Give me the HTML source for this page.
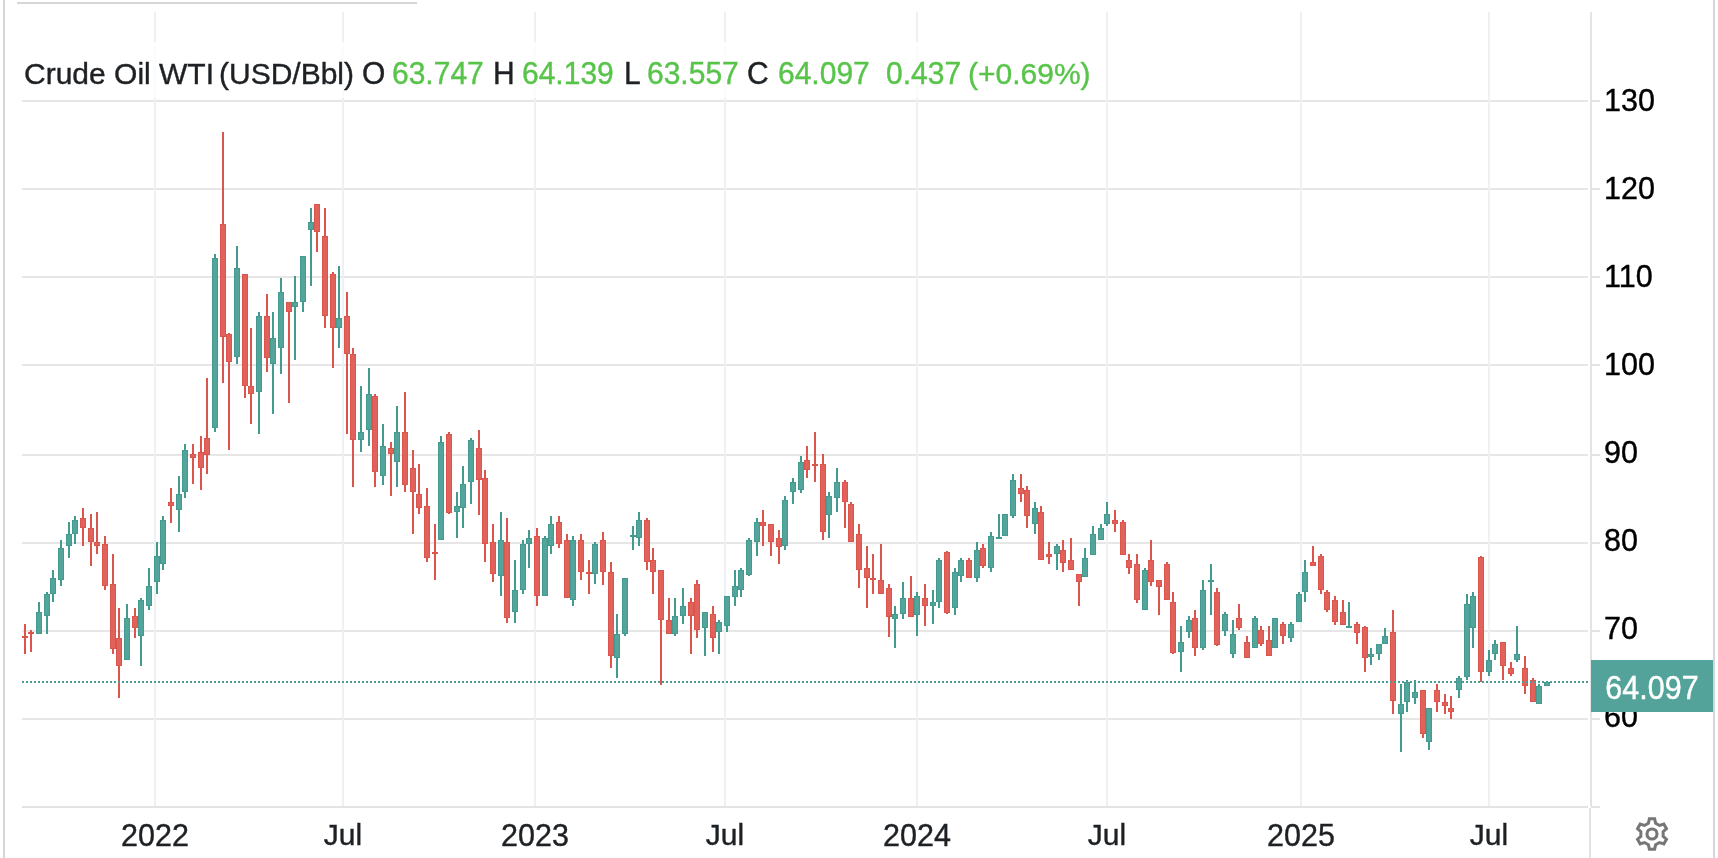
<!DOCTYPE html>
<html><head><meta charset="utf-8">
<style>
html,body{margin:0;padding:0;background:#fff;}
body{width:1718px;height:858px;position:relative;overflow:hidden;font-family:"Liberation Sans",sans-serif;}
.t{position:absolute;white-space:pre;line-height:1;will-change:transform;-webkit-text-stroke:0.4px currentColor;}
.num{font-size:30.5px;color:#000;transform:scaleY(1.05);transform-origin:0 25px;}
.mon{font-size:30px;}
</style></head><body>
<svg width="1718" height="858" style="position:absolute;left:0;top:0" shape-rendering="crispEdges">
<rect x="3" y="0" width="2" height="858" fill="#d5d6d8"/>
<rect x="1713" y="0" width="2" height="858" fill="#d5d6d8"/>
<rect x="17" y="2" width="400" height="2" fill="#d5d6d8"/>
<svg x="0" y="12" width="1590" height="794" viewBox="0 12 1590 794" overflow="hidden"><rect x="0" y="0" width="0" height="0"/>
<g>
<rect x="22" y="100" width="1566" height="2" fill="#e6e6e6"/>
<rect x="22" y="188" width="1566" height="2" fill="#e6e6e6"/>
<rect x="22" y="276" width="1566" height="2" fill="#e6e6e6"/>
<rect x="22" y="364" width="1566" height="2" fill="#e6e6e6"/>
<rect x="22" y="454" width="1566" height="2" fill="#e6e6e6"/>
<rect x="22" y="542" width="1566" height="2" fill="#e6e6e6"/>
<rect x="22" y="630" width="1566" height="2" fill="#e6e6e6"/>
<rect x="22" y="718" width="1566" height="2" fill="#e6e6e6"/>
<rect x="154" y="12" width="2" height="794" fill="#edf1f5"/>
<rect x="342" y="12" width="2" height="794" fill="#edf1f5"/>
<rect x="534" y="12" width="2" height="794" fill="#edf1f5"/>
<rect x="724" y="12" width="2" height="794" fill="#edf1f5"/>
<rect x="916" y="12" width="2" height="794" fill="#edf1f5"/>
<rect x="1106" y="12" width="2" height="794" fill="#edf1f5"/>
<rect x="1300" y="12" width="2" height="794" fill="#edf1f5"/>
<rect x="1488" y="12" width="2" height="794" fill="#edf1f5"/>
<rect x="24" y="624" width="2" height="12" fill="#db554c"/>
<rect x="24" y="638" width="2" height="16" fill="#db554c"/>
<rect x="22" y="636" width="6" height="2" fill="#db554c"/>
<rect x="30" y="630" width="2" height="2" fill="#db554c"/>
<rect x="30" y="634" width="2" height="18" fill="#db554c"/>
<rect x="28" y="632" width="6" height="2" fill="#db554c"/>
<rect x="38" y="602" width="2" height="10" fill="#439b8f"/>
<rect x="36" y="612" width="6" height="22" fill="#439b8f"/>
<rect x="37" y="613" width="4" height="20" fill="#53a59b"/>
<rect x="46" y="592" width="2" height="2" fill="#439b8f"/>
<rect x="46" y="616" width="2" height="18" fill="#439b8f"/>
<rect x="44" y="594" width="6" height="22" fill="#439b8f"/>
<rect x="45" y="595" width="4" height="20" fill="#53a59b"/>
<rect x="52" y="570" width="2" height="8" fill="#439b8f"/>
<rect x="52" y="594" width="2" height="8" fill="#439b8f"/>
<rect x="50" y="578" width="6" height="16" fill="#439b8f"/>
<rect x="51" y="579" width="4" height="14" fill="#53a59b"/>
<rect x="60" y="540" width="2" height="8" fill="#439b8f"/>
<rect x="60" y="580" width="2" height="6" fill="#439b8f"/>
<rect x="58" y="548" width="6" height="32" fill="#439b8f"/>
<rect x="59" y="549" width="4" height="30" fill="#53a59b"/>
<rect x="68" y="522" width="2" height="12" fill="#439b8f"/>
<rect x="68" y="546" width="2" height="12" fill="#439b8f"/>
<rect x="66" y="534" width="6" height="12" fill="#439b8f"/>
<rect x="67" y="535" width="4" height="10" fill="#53a59b"/>
<rect x="74" y="516" width="2" height="4" fill="#439b8f"/>
<rect x="74" y="534" width="2" height="10" fill="#439b8f"/>
<rect x="72" y="520" width="6" height="14" fill="#439b8f"/>
<rect x="73" y="521" width="4" height="12" fill="#53a59b"/>
<rect x="82" y="508" width="2" height="10" fill="#db554c"/>
<rect x="82" y="528" width="2" height="18" fill="#db554c"/>
<rect x="80" y="518" width="6" height="10" fill="#db554c"/>
<rect x="81" y="519" width="4" height="8" fill="#e0625a"/>
<rect x="90" y="514" width="2" height="14" fill="#db554c"/>
<rect x="90" y="542" width="2" height="24" fill="#db554c"/>
<rect x="88" y="528" width="6" height="14" fill="#db554c"/>
<rect x="89" y="529" width="4" height="12" fill="#e0625a"/>
<rect x="96" y="512" width="2" height="30" fill="#db554c"/>
<rect x="96" y="546" width="2" height="8" fill="#db554c"/>
<rect x="94" y="542" width="6" height="4" fill="#db554c"/>
<rect x="95" y="543" width="4" height="2" fill="#e0625a"/>
<rect x="104" y="536" width="2" height="8" fill="#db554c"/>
<rect x="104" y="586" width="2" height="4" fill="#db554c"/>
<rect x="102" y="544" width="6" height="42" fill="#db554c"/>
<rect x="103" y="545" width="4" height="40" fill="#e0625a"/>
<rect x="112" y="554" width="2" height="30" fill="#db554c"/>
<rect x="112" y="649" width="2" height="5" fill="#db554c"/>
<rect x="110" y="584" width="6" height="65" fill="#db554c"/>
<rect x="111" y="585" width="4" height="63" fill="#e0625a"/>
<rect x="118" y="608" width="2" height="30" fill="#db554c"/>
<rect x="118" y="666" width="2" height="32" fill="#db554c"/>
<rect x="116" y="638" width="6" height="28" fill="#db554c"/>
<rect x="117" y="639" width="4" height="26" fill="#e0625a"/>
<rect x="126" y="604" width="2" height="14" fill="#439b8f"/>
<rect x="124" y="618" width="6" height="42" fill="#439b8f"/>
<rect x="125" y="619" width="4" height="40" fill="#53a59b"/>
<rect x="134" y="608" width="2" height="8" fill="#db554c"/>
<rect x="134" y="628" width="2" height="10" fill="#db554c"/>
<rect x="132" y="616" width="6" height="12" fill="#db554c"/>
<rect x="133" y="617" width="4" height="10" fill="#e0625a"/>
<rect x="140" y="598" width="2" height="2" fill="#439b8f"/>
<rect x="140" y="636" width="2" height="30" fill="#439b8f"/>
<rect x="138" y="600" width="6" height="36" fill="#439b8f"/>
<rect x="139" y="601" width="4" height="34" fill="#53a59b"/>
<rect x="148" y="568" width="2" height="18" fill="#439b8f"/>
<rect x="148" y="606" width="2" height="4" fill="#439b8f"/>
<rect x="146" y="586" width="6" height="20" fill="#439b8f"/>
<rect x="147" y="587" width="4" height="18" fill="#53a59b"/>
<rect x="156" y="542" width="2" height="14" fill="#439b8f"/>
<rect x="156" y="582" width="2" height="12" fill="#439b8f"/>
<rect x="154" y="556" width="6" height="26" fill="#439b8f"/>
<rect x="155" y="557" width="4" height="24" fill="#53a59b"/>
<rect x="162" y="516" width="2" height="4" fill="#439b8f"/>
<rect x="162" y="564" width="2" height="6" fill="#439b8f"/>
<rect x="160" y="520" width="6" height="44" fill="#439b8f"/>
<rect x="161" y="521" width="4" height="42" fill="#53a59b"/>
<rect x="170" y="488" width="2" height="14" fill="#db554c"/>
<rect x="170" y="506" width="2" height="17" fill="#db554c"/>
<rect x="168" y="502" width="6" height="4" fill="#db554c"/>
<rect x="169" y="503" width="4" height="2" fill="#e0625a"/>
<rect x="178" y="476" width="2" height="18" fill="#439b8f"/>
<rect x="178" y="510" width="2" height="22" fill="#439b8f"/>
<rect x="176" y="494" width="6" height="16" fill="#439b8f"/>
<rect x="177" y="495" width="4" height="14" fill="#53a59b"/>
<rect x="184" y="444" width="2" height="6" fill="#439b8f"/>
<rect x="184" y="492" width="2" height="6" fill="#439b8f"/>
<rect x="182" y="450" width="6" height="42" fill="#439b8f"/>
<rect x="183" y="451" width="4" height="40" fill="#53a59b"/>
<rect x="192" y="444" width="2" height="10" fill="#db554c"/>
<rect x="192" y="458" width="2" height="26" fill="#db554c"/>
<rect x="190" y="454" width="6" height="4" fill="#db554c"/>
<rect x="191" y="455" width="4" height="2" fill="#e0625a"/>
<rect x="200" y="436" width="2" height="16" fill="#db554c"/>
<rect x="200" y="468" width="2" height="22" fill="#db554c"/>
<rect x="198" y="452" width="6" height="16" fill="#db554c"/>
<rect x="199" y="453" width="4" height="14" fill="#e0625a"/>
<rect x="206" y="378" width="2" height="60" fill="#db554c"/>
<rect x="206" y="455" width="2" height="19" fill="#db554c"/>
<rect x="204" y="438" width="6" height="17" fill="#db554c"/>
<rect x="205" y="439" width="4" height="15" fill="#e0625a"/>
<rect x="214" y="254" width="2" height="4" fill="#439b8f"/>
<rect x="214" y="428" width="2" height="4" fill="#439b8f"/>
<rect x="212" y="258" width="6" height="170" fill="#439b8f"/>
<rect x="213" y="259" width="4" height="168" fill="#53a59b"/>
<rect x="222" y="132" width="2" height="92" fill="#db554c"/>
<rect x="222" y="337" width="2" height="46" fill="#db554c"/>
<rect x="220" y="224" width="6" height="113" fill="#db554c"/>
<rect x="221" y="225" width="4" height="111" fill="#e0625a"/>
<rect x="228" y="333" width="2" height="1" fill="#db554c"/>
<rect x="228" y="362" width="2" height="88" fill="#db554c"/>
<rect x="226" y="334" width="6" height="28" fill="#db554c"/>
<rect x="227" y="335" width="4" height="26" fill="#e0625a"/>
<rect x="236" y="246" width="2" height="22" fill="#439b8f"/>
<rect x="236" y="357" width="2" height="7" fill="#439b8f"/>
<rect x="234" y="268" width="6" height="89" fill="#439b8f"/>
<rect x="235" y="269" width="4" height="87" fill="#53a59b"/>
<rect x="244" y="386" width="2" height="12" fill="#db554c"/>
<rect x="242" y="274" width="6" height="112" fill="#db554c"/>
<rect x="243" y="275" width="4" height="110" fill="#e0625a"/>
<rect x="250" y="328" width="2" height="58" fill="#db554c"/>
<rect x="250" y="394" width="2" height="30" fill="#db554c"/>
<rect x="248" y="386" width="6" height="8" fill="#db554c"/>
<rect x="249" y="387" width="4" height="6" fill="#e0625a"/>
<rect x="258" y="312" width="2" height="4" fill="#439b8f"/>
<rect x="258" y="392" width="2" height="42" fill="#439b8f"/>
<rect x="256" y="316" width="6" height="76" fill="#439b8f"/>
<rect x="257" y="317" width="4" height="74" fill="#53a59b"/>
<rect x="266" y="294" width="2" height="22" fill="#db554c"/>
<rect x="266" y="358" width="2" height="14" fill="#db554c"/>
<rect x="264" y="316" width="6" height="42" fill="#db554c"/>
<rect x="265" y="317" width="4" height="40" fill="#e0625a"/>
<rect x="272" y="312" width="2" height="26" fill="#439b8f"/>
<rect x="272" y="364" width="2" height="50" fill="#439b8f"/>
<rect x="270" y="338" width="6" height="26" fill="#439b8f"/>
<rect x="271" y="339" width="4" height="24" fill="#53a59b"/>
<rect x="280" y="278" width="2" height="14" fill="#439b8f"/>
<rect x="280" y="348" width="2" height="26" fill="#439b8f"/>
<rect x="278" y="292" width="6" height="56" fill="#439b8f"/>
<rect x="279" y="293" width="4" height="54" fill="#53a59b"/>
<rect x="288" y="312" width="2" height="91" fill="#db554c"/>
<rect x="286" y="302" width="6" height="10" fill="#db554c"/>
<rect x="287" y="303" width="4" height="8" fill="#e0625a"/>
<rect x="294" y="276" width="2" height="26" fill="#439b8f"/>
<rect x="294" y="307" width="2" height="53" fill="#439b8f"/>
<rect x="292" y="302" width="6" height="5" fill="#439b8f"/>
<rect x="293" y="303" width="4" height="3" fill="#53a59b"/>
<rect x="302" y="302" width="2" height="10" fill="#439b8f"/>
<rect x="300" y="256" width="6" height="46" fill="#439b8f"/>
<rect x="301" y="257" width="4" height="44" fill="#53a59b"/>
<rect x="310" y="208" width="2" height="14" fill="#439b8f"/>
<rect x="310" y="230" width="2" height="56" fill="#439b8f"/>
<rect x="308" y="222" width="6" height="8" fill="#439b8f"/>
<rect x="309" y="223" width="4" height="6" fill="#53a59b"/>
<rect x="316" y="232" width="2" height="20" fill="#db554c"/>
<rect x="314" y="204" width="6" height="28" fill="#db554c"/>
<rect x="315" y="205" width="4" height="26" fill="#e0625a"/>
<rect x="324" y="208" width="2" height="28" fill="#db554c"/>
<rect x="324" y="316" width="2" height="12" fill="#db554c"/>
<rect x="322" y="236" width="6" height="80" fill="#db554c"/>
<rect x="323" y="237" width="4" height="78" fill="#e0625a"/>
<rect x="332" y="272" width="2" height="2" fill="#db554c"/>
<rect x="332" y="328" width="2" height="40" fill="#db554c"/>
<rect x="330" y="274" width="6" height="54" fill="#db554c"/>
<rect x="331" y="275" width="4" height="52" fill="#e0625a"/>
<rect x="338" y="266" width="2" height="52" fill="#439b8f"/>
<rect x="338" y="328" width="2" height="20" fill="#439b8f"/>
<rect x="336" y="318" width="6" height="10" fill="#439b8f"/>
<rect x="337" y="319" width="4" height="8" fill="#53a59b"/>
<rect x="346" y="292" width="2" height="24" fill="#db554c"/>
<rect x="346" y="354" width="2" height="80" fill="#db554c"/>
<rect x="344" y="316" width="6" height="38" fill="#db554c"/>
<rect x="345" y="317" width="4" height="36" fill="#e0625a"/>
<rect x="352" y="348" width="2" height="6" fill="#db554c"/>
<rect x="352" y="440" width="2" height="47" fill="#db554c"/>
<rect x="350" y="354" width="6" height="86" fill="#db554c"/>
<rect x="351" y="355" width="4" height="84" fill="#e0625a"/>
<rect x="360" y="386" width="2" height="46" fill="#439b8f"/>
<rect x="360" y="440" width="2" height="12" fill="#439b8f"/>
<rect x="358" y="432" width="6" height="8" fill="#439b8f"/>
<rect x="359" y="433" width="4" height="6" fill="#53a59b"/>
<rect x="368" y="368" width="2" height="26" fill="#439b8f"/>
<rect x="368" y="430" width="2" height="16" fill="#439b8f"/>
<rect x="366" y="394" width="6" height="36" fill="#439b8f"/>
<rect x="367" y="395" width="4" height="34" fill="#53a59b"/>
<rect x="374" y="394" width="2" height="2" fill="#db554c"/>
<rect x="374" y="472" width="2" height="15" fill="#db554c"/>
<rect x="372" y="396" width="6" height="76" fill="#db554c"/>
<rect x="373" y="397" width="4" height="74" fill="#e0625a"/>
<rect x="382" y="424" width="2" height="22" fill="#439b8f"/>
<rect x="382" y="476" width="2" height="9" fill="#439b8f"/>
<rect x="380" y="446" width="6" height="30" fill="#439b8f"/>
<rect x="381" y="447" width="4" height="28" fill="#53a59b"/>
<rect x="390" y="442" width="2" height="6" fill="#db554c"/>
<rect x="390" y="454" width="2" height="42" fill="#db554c"/>
<rect x="388" y="448" width="6" height="6" fill="#db554c"/>
<rect x="389" y="449" width="4" height="4" fill="#e0625a"/>
<rect x="396" y="406" width="2" height="26" fill="#439b8f"/>
<rect x="396" y="462" width="2" height="25" fill="#439b8f"/>
<rect x="394" y="432" width="6" height="30" fill="#439b8f"/>
<rect x="395" y="433" width="4" height="28" fill="#53a59b"/>
<rect x="404" y="392" width="2" height="40" fill="#db554c"/>
<rect x="404" y="485" width="2" height="7" fill="#db554c"/>
<rect x="402" y="432" width="6" height="53" fill="#db554c"/>
<rect x="403" y="433" width="4" height="51" fill="#e0625a"/>
<rect x="412" y="450" width="2" height="18" fill="#db554c"/>
<rect x="412" y="492" width="2" height="42" fill="#db554c"/>
<rect x="410" y="468" width="6" height="24" fill="#db554c"/>
<rect x="411" y="469" width="4" height="22" fill="#e0625a"/>
<rect x="418" y="464" width="2" height="30" fill="#db554c"/>
<rect x="418" y="508" width="2" height="6" fill="#db554c"/>
<rect x="416" y="494" width="6" height="14" fill="#db554c"/>
<rect x="417" y="495" width="4" height="12" fill="#e0625a"/>
<rect x="426" y="488" width="2" height="18" fill="#db554c"/>
<rect x="426" y="558" width="2" height="4" fill="#db554c"/>
<rect x="424" y="506" width="6" height="52" fill="#db554c"/>
<rect x="425" y="507" width="4" height="50" fill="#e0625a"/>
<rect x="434" y="524" width="2" height="28" fill="#db554c"/>
<rect x="434" y="554" width="2" height="26" fill="#db554c"/>
<rect x="432" y="552" width="6" height="2" fill="#db554c"/>
<rect x="440" y="436" width="2" height="6" fill="#439b8f"/>
<rect x="438" y="442" width="6" height="98" fill="#439b8f"/>
<rect x="439" y="443" width="4" height="96" fill="#53a59b"/>
<rect x="448" y="432" width="2" height="2" fill="#db554c"/>
<rect x="448" y="513" width="2" height="1" fill="#db554c"/>
<rect x="446" y="434" width="6" height="79" fill="#db554c"/>
<rect x="447" y="435" width="4" height="77" fill="#e0625a"/>
<rect x="456" y="492" width="2" height="14" fill="#439b8f"/>
<rect x="456" y="512" width="2" height="26" fill="#439b8f"/>
<rect x="454" y="506" width="6" height="6" fill="#439b8f"/>
<rect x="455" y="507" width="4" height="4" fill="#53a59b"/>
<rect x="462" y="466" width="2" height="18" fill="#439b8f"/>
<rect x="462" y="508" width="2" height="20" fill="#439b8f"/>
<rect x="460" y="484" width="6" height="24" fill="#439b8f"/>
<rect x="461" y="485" width="4" height="22" fill="#53a59b"/>
<rect x="470" y="438" width="2" height="2" fill="#439b8f"/>
<rect x="470" y="482" width="2" height="22" fill="#439b8f"/>
<rect x="468" y="440" width="6" height="42" fill="#439b8f"/>
<rect x="469" y="441" width="4" height="40" fill="#53a59b"/>
<rect x="478" y="430" width="2" height="18" fill="#db554c"/>
<rect x="478" y="480" width="2" height="35" fill="#db554c"/>
<rect x="476" y="448" width="6" height="32" fill="#db554c"/>
<rect x="477" y="449" width="4" height="30" fill="#e0625a"/>
<rect x="484" y="470" width="2" height="8" fill="#db554c"/>
<rect x="484" y="544" width="2" height="18" fill="#db554c"/>
<rect x="482" y="478" width="6" height="66" fill="#db554c"/>
<rect x="483" y="479" width="4" height="64" fill="#e0625a"/>
<rect x="492" y="524" width="2" height="18" fill="#db554c"/>
<rect x="492" y="574" width="2" height="8" fill="#db554c"/>
<rect x="490" y="542" width="6" height="32" fill="#db554c"/>
<rect x="491" y="543" width="4" height="30" fill="#e0625a"/>
<rect x="500" y="512" width="2" height="28" fill="#439b8f"/>
<rect x="500" y="576" width="2" height="20" fill="#439b8f"/>
<rect x="498" y="540" width="6" height="36" fill="#439b8f"/>
<rect x="499" y="541" width="4" height="34" fill="#53a59b"/>
<rect x="506" y="518" width="2" height="24" fill="#db554c"/>
<rect x="506" y="618" width="2" height="5" fill="#db554c"/>
<rect x="504" y="542" width="6" height="76" fill="#db554c"/>
<rect x="505" y="543" width="4" height="74" fill="#e0625a"/>
<rect x="514" y="560" width="2" height="30" fill="#439b8f"/>
<rect x="514" y="612" width="2" height="11" fill="#439b8f"/>
<rect x="512" y="590" width="6" height="22" fill="#439b8f"/>
<rect x="513" y="591" width="4" height="20" fill="#53a59b"/>
<rect x="522" y="540" width="2" height="4" fill="#439b8f"/>
<rect x="522" y="590" width="2" height="4" fill="#439b8f"/>
<rect x="520" y="544" width="6" height="46" fill="#439b8f"/>
<rect x="521" y="545" width="4" height="44" fill="#53a59b"/>
<rect x="528" y="530" width="2" height="8" fill="#439b8f"/>
<rect x="528" y="544" width="2" height="24" fill="#439b8f"/>
<rect x="526" y="538" width="6" height="6" fill="#439b8f"/>
<rect x="527" y="539" width="4" height="4" fill="#53a59b"/>
<rect x="536" y="528" width="2" height="8" fill="#db554c"/>
<rect x="536" y="596" width="2" height="10" fill="#db554c"/>
<rect x="534" y="536" width="6" height="60" fill="#db554c"/>
<rect x="535" y="537" width="4" height="58" fill="#e0625a"/>
<rect x="544" y="536" width="2" height="2" fill="#439b8f"/>
<rect x="542" y="538" width="6" height="58" fill="#439b8f"/>
<rect x="543" y="539" width="4" height="56" fill="#53a59b"/>
<rect x="550" y="516" width="2" height="8" fill="#439b8f"/>
<rect x="550" y="546" width="2" height="8" fill="#439b8f"/>
<rect x="548" y="524" width="6" height="22" fill="#439b8f"/>
<rect x="549" y="525" width="4" height="20" fill="#53a59b"/>
<rect x="558" y="516" width="2" height="6" fill="#db554c"/>
<rect x="558" y="544" width="2" height="4" fill="#db554c"/>
<rect x="556" y="522" width="6" height="22" fill="#db554c"/>
<rect x="557" y="523" width="4" height="20" fill="#e0625a"/>
<rect x="566" y="534" width="2" height="6" fill="#db554c"/>
<rect x="564" y="540" width="6" height="58" fill="#db554c"/>
<rect x="565" y="541" width="4" height="56" fill="#e0625a"/>
<rect x="572" y="536" width="2" height="4" fill="#439b8f"/>
<rect x="572" y="600" width="2" height="6" fill="#439b8f"/>
<rect x="570" y="540" width="6" height="60" fill="#439b8f"/>
<rect x="571" y="541" width="4" height="58" fill="#53a59b"/>
<rect x="580" y="534" width="2" height="6" fill="#db554c"/>
<rect x="580" y="572" width="2" height="8" fill="#db554c"/>
<rect x="578" y="540" width="6" height="32" fill="#db554c"/>
<rect x="579" y="541" width="4" height="30" fill="#e0625a"/>
<rect x="588" y="560" width="2" height="12" fill="#db554c"/>
<rect x="588" y="574" width="2" height="20" fill="#db554c"/>
<rect x="586" y="572" width="6" height="2" fill="#db554c"/>
<rect x="594" y="542" width="2" height="2" fill="#439b8f"/>
<rect x="594" y="574" width="2" height="10" fill="#439b8f"/>
<rect x="592" y="544" width="6" height="30" fill="#439b8f"/>
<rect x="593" y="545" width="4" height="28" fill="#53a59b"/>
<rect x="602" y="532" width="2" height="8" fill="#db554c"/>
<rect x="602" y="572" width="2" height="13" fill="#db554c"/>
<rect x="600" y="540" width="6" height="32" fill="#db554c"/>
<rect x="601" y="541" width="4" height="30" fill="#e0625a"/>
<rect x="610" y="562" width="2" height="10" fill="#db554c"/>
<rect x="610" y="656" width="2" height="12" fill="#db554c"/>
<rect x="608" y="572" width="6" height="84" fill="#db554c"/>
<rect x="609" y="573" width="4" height="82" fill="#e0625a"/>
<rect x="616" y="614" width="2" height="20" fill="#439b8f"/>
<rect x="616" y="658" width="2" height="20" fill="#439b8f"/>
<rect x="614" y="634" width="6" height="24" fill="#439b8f"/>
<rect x="615" y="635" width="4" height="22" fill="#53a59b"/>
<rect x="624" y="634" width="2" height="2" fill="#439b8f"/>
<rect x="622" y="578" width="6" height="56" fill="#439b8f"/>
<rect x="623" y="579" width="4" height="54" fill="#53a59b"/>
<rect x="632" y="526" width="2" height="9" fill="#439b8f"/>
<rect x="632" y="537" width="2" height="13" fill="#439b8f"/>
<rect x="630" y="535" width="6" height="2" fill="#439b8f"/>
<rect x="638" y="512" width="2" height="8" fill="#439b8f"/>
<rect x="638" y="538" width="2" height="8" fill="#439b8f"/>
<rect x="636" y="520" width="6" height="18" fill="#439b8f"/>
<rect x="637" y="521" width="4" height="16" fill="#53a59b"/>
<rect x="646" y="518" width="2" height="2" fill="#db554c"/>
<rect x="646" y="562" width="2" height="8" fill="#db554c"/>
<rect x="644" y="520" width="6" height="42" fill="#db554c"/>
<rect x="645" y="521" width="4" height="40" fill="#e0625a"/>
<rect x="652" y="548" width="2" height="12" fill="#db554c"/>
<rect x="652" y="572" width="2" height="22" fill="#db554c"/>
<rect x="650" y="560" width="6" height="12" fill="#db554c"/>
<rect x="651" y="561" width="4" height="10" fill="#e0625a"/>
<rect x="660" y="620" width="2" height="65" fill="#db554c"/>
<rect x="658" y="570" width="6" height="50" fill="#db554c"/>
<rect x="659" y="571" width="4" height="48" fill="#e0625a"/>
<rect x="668" y="598" width="2" height="22" fill="#db554c"/>
<rect x="666" y="620" width="6" height="14" fill="#db554c"/>
<rect x="667" y="621" width="4" height="12" fill="#e0625a"/>
<rect x="674" y="598" width="2" height="18" fill="#439b8f"/>
<rect x="674" y="634" width="2" height="2" fill="#439b8f"/>
<rect x="672" y="616" width="6" height="18" fill="#439b8f"/>
<rect x="673" y="617" width="4" height="16" fill="#53a59b"/>
<rect x="682" y="588" width="2" height="18" fill="#439b8f"/>
<rect x="682" y="616" width="2" height="8" fill="#439b8f"/>
<rect x="680" y="606" width="6" height="10" fill="#439b8f"/>
<rect x="681" y="607" width="4" height="8" fill="#53a59b"/>
<rect x="690" y="598" width="2" height="4" fill="#db554c"/>
<rect x="690" y="616" width="2" height="38" fill="#db554c"/>
<rect x="688" y="602" width="6" height="14" fill="#db554c"/>
<rect x="689" y="603" width="4" height="12" fill="#e0625a"/>
<rect x="696" y="580" width="2" height="4" fill="#db554c"/>
<rect x="696" y="630" width="2" height="8" fill="#db554c"/>
<rect x="694" y="584" width="6" height="46" fill="#db554c"/>
<rect x="695" y="585" width="4" height="44" fill="#e0625a"/>
<rect x="704" y="628" width="2" height="28" fill="#439b8f"/>
<rect x="702" y="612" width="6" height="16" fill="#439b8f"/>
<rect x="703" y="613" width="4" height="14" fill="#53a59b"/>
<rect x="712" y="606" width="2" height="8" fill="#db554c"/>
<rect x="712" y="638" width="2" height="14" fill="#db554c"/>
<rect x="710" y="614" width="6" height="24" fill="#db554c"/>
<rect x="711" y="615" width="4" height="22" fill="#e0625a"/>
<rect x="718" y="620" width="2" height="2" fill="#439b8f"/>
<rect x="718" y="632" width="2" height="22" fill="#439b8f"/>
<rect x="716" y="622" width="6" height="10" fill="#439b8f"/>
<rect x="717" y="623" width="4" height="8" fill="#53a59b"/>
<rect x="726" y="626" width="2" height="6" fill="#439b8f"/>
<rect x="724" y="596" width="6" height="30" fill="#439b8f"/>
<rect x="725" y="597" width="4" height="28" fill="#53a59b"/>
<rect x="734" y="570" width="2" height="16" fill="#439b8f"/>
<rect x="734" y="597" width="2" height="9" fill="#439b8f"/>
<rect x="732" y="586" width="6" height="11" fill="#439b8f"/>
<rect x="733" y="587" width="4" height="9" fill="#53a59b"/>
<rect x="740" y="568" width="2" height="2" fill="#439b8f"/>
<rect x="740" y="590" width="2" height="7" fill="#439b8f"/>
<rect x="738" y="570" width="6" height="20" fill="#439b8f"/>
<rect x="739" y="571" width="4" height="18" fill="#53a59b"/>
<rect x="748" y="538" width="2" height="2" fill="#439b8f"/>
<rect x="748" y="575" width="2" height="1" fill="#439b8f"/>
<rect x="746" y="540" width="6" height="35" fill="#439b8f"/>
<rect x="747" y="541" width="4" height="33" fill="#53a59b"/>
<rect x="756" y="518" width="2" height="4" fill="#439b8f"/>
<rect x="756" y="542" width="2" height="14" fill="#439b8f"/>
<rect x="754" y="522" width="6" height="20" fill="#439b8f"/>
<rect x="755" y="523" width="4" height="18" fill="#53a59b"/>
<rect x="762" y="510" width="2" height="12" fill="#db554c"/>
<rect x="762" y="526" width="2" height="20" fill="#db554c"/>
<rect x="760" y="522" width="6" height="4" fill="#db554c"/>
<rect x="761" y="523" width="4" height="2" fill="#e0625a"/>
<rect x="770" y="542" width="2" height="14" fill="#db554c"/>
<rect x="768" y="524" width="6" height="18" fill="#db554c"/>
<rect x="769" y="525" width="4" height="16" fill="#e0625a"/>
<rect x="778" y="530" width="2" height="8" fill="#db554c"/>
<rect x="778" y="547" width="2" height="17" fill="#db554c"/>
<rect x="776" y="538" width="6" height="9" fill="#db554c"/>
<rect x="777" y="539" width="4" height="7" fill="#e0625a"/>
<rect x="784" y="496" width="2" height="4" fill="#439b8f"/>
<rect x="784" y="546" width="2" height="4" fill="#439b8f"/>
<rect x="782" y="500" width="6" height="46" fill="#439b8f"/>
<rect x="783" y="501" width="4" height="44" fill="#53a59b"/>
<rect x="792" y="478" width="2" height="4" fill="#439b8f"/>
<rect x="792" y="492" width="2" height="12" fill="#439b8f"/>
<rect x="790" y="482" width="6" height="10" fill="#439b8f"/>
<rect x="791" y="483" width="4" height="8" fill="#53a59b"/>
<rect x="800" y="456" width="2" height="6" fill="#439b8f"/>
<rect x="800" y="490" width="2" height="3" fill="#439b8f"/>
<rect x="798" y="462" width="6" height="28" fill="#439b8f"/>
<rect x="799" y="463" width="4" height="26" fill="#53a59b"/>
<rect x="806" y="446" width="2" height="14" fill="#db554c"/>
<rect x="806" y="470" width="2" height="8" fill="#db554c"/>
<rect x="804" y="460" width="6" height="10" fill="#db554c"/>
<rect x="805" y="461" width="4" height="8" fill="#e0625a"/>
<rect x="814" y="432" width="2" height="32" fill="#db554c"/>
<rect x="814" y="466" width="2" height="16" fill="#db554c"/>
<rect x="812" y="464" width="6" height="2" fill="#db554c"/>
<rect x="822" y="454" width="2" height="10" fill="#db554c"/>
<rect x="822" y="532" width="2" height="8" fill="#db554c"/>
<rect x="820" y="464" width="6" height="68" fill="#db554c"/>
<rect x="821" y="465" width="4" height="66" fill="#e0625a"/>
<rect x="828" y="492" width="2" height="4" fill="#439b8f"/>
<rect x="828" y="515" width="2" height="23" fill="#439b8f"/>
<rect x="826" y="496" width="6" height="19" fill="#439b8f"/>
<rect x="827" y="497" width="4" height="17" fill="#53a59b"/>
<rect x="836" y="468" width="2" height="14" fill="#439b8f"/>
<rect x="836" y="498" width="2" height="14" fill="#439b8f"/>
<rect x="834" y="482" width="6" height="16" fill="#439b8f"/>
<rect x="835" y="483" width="4" height="14" fill="#53a59b"/>
<rect x="844" y="480" width="2" height="2" fill="#db554c"/>
<rect x="844" y="502" width="2" height="26" fill="#db554c"/>
<rect x="842" y="482" width="6" height="20" fill="#db554c"/>
<rect x="843" y="483" width="4" height="18" fill="#e0625a"/>
<rect x="850" y="502" width="2" height="2" fill="#db554c"/>
<rect x="848" y="504" width="6" height="38" fill="#db554c"/>
<rect x="849" y="505" width="4" height="36" fill="#e0625a"/>
<rect x="858" y="524" width="2" height="10" fill="#db554c"/>
<rect x="858" y="570" width="2" height="18" fill="#db554c"/>
<rect x="856" y="534" width="6" height="36" fill="#db554c"/>
<rect x="857" y="535" width="4" height="34" fill="#e0625a"/>
<rect x="866" y="546" width="2" height="22" fill="#db554c"/>
<rect x="866" y="578" width="2" height="30" fill="#db554c"/>
<rect x="864" y="568" width="6" height="10" fill="#db554c"/>
<rect x="865" y="569" width="4" height="8" fill="#e0625a"/>
<rect x="872" y="554" width="2" height="24" fill="#db554c"/>
<rect x="872" y="580" width="2" height="14" fill="#db554c"/>
<rect x="870" y="578" width="6" height="2" fill="#db554c"/>
<rect x="880" y="544" width="2" height="36" fill="#db554c"/>
<rect x="878" y="580" width="6" height="14" fill="#db554c"/>
<rect x="879" y="581" width="4" height="12" fill="#e0625a"/>
<rect x="888" y="584" width="2" height="4" fill="#db554c"/>
<rect x="888" y="617" width="2" height="20" fill="#db554c"/>
<rect x="886" y="588" width="6" height="29" fill="#db554c"/>
<rect x="887" y="589" width="4" height="27" fill="#e0625a"/>
<rect x="894" y="606" width="2" height="8" fill="#439b8f"/>
<rect x="894" y="619" width="2" height="29" fill="#439b8f"/>
<rect x="892" y="614" width="6" height="5" fill="#439b8f"/>
<rect x="893" y="615" width="4" height="3" fill="#53a59b"/>
<rect x="902" y="582" width="2" height="16" fill="#439b8f"/>
<rect x="902" y="614" width="2" height="5" fill="#439b8f"/>
<rect x="900" y="598" width="6" height="16" fill="#439b8f"/>
<rect x="901" y="599" width="4" height="14" fill="#53a59b"/>
<rect x="910" y="576" width="2" height="22" fill="#db554c"/>
<rect x="908" y="598" width="6" height="19" fill="#db554c"/>
<rect x="909" y="599" width="4" height="17" fill="#e0625a"/>
<rect x="916" y="592" width="2" height="4" fill="#439b8f"/>
<rect x="916" y="615" width="2" height="21" fill="#439b8f"/>
<rect x="914" y="596" width="6" height="19" fill="#439b8f"/>
<rect x="915" y="597" width="4" height="17" fill="#53a59b"/>
<rect x="924" y="584" width="2" height="14" fill="#db554c"/>
<rect x="924" y="606" width="2" height="20" fill="#db554c"/>
<rect x="922" y="598" width="6" height="8" fill="#db554c"/>
<rect x="923" y="599" width="4" height="6" fill="#e0625a"/>
<rect x="932" y="590" width="2" height="12" fill="#439b8f"/>
<rect x="932" y="606" width="2" height="18" fill="#439b8f"/>
<rect x="930" y="602" width="6" height="4" fill="#439b8f"/>
<rect x="931" y="603" width="4" height="2" fill="#53a59b"/>
<rect x="938" y="558" width="2" height="2" fill="#439b8f"/>
<rect x="938" y="602" width="2" height="6" fill="#439b8f"/>
<rect x="936" y="560" width="6" height="42" fill="#439b8f"/>
<rect x="937" y="561" width="4" height="40" fill="#53a59b"/>
<rect x="946" y="551" width="2" height="1" fill="#db554c"/>
<rect x="946" y="613" width="2" height="1" fill="#db554c"/>
<rect x="944" y="552" width="6" height="61" fill="#db554c"/>
<rect x="945" y="553" width="4" height="59" fill="#e0625a"/>
<rect x="954" y="568" width="2" height="4" fill="#439b8f"/>
<rect x="954" y="608" width="2" height="7" fill="#439b8f"/>
<rect x="952" y="572" width="6" height="36" fill="#439b8f"/>
<rect x="953" y="573" width="4" height="34" fill="#53a59b"/>
<rect x="960" y="558" width="2" height="2" fill="#439b8f"/>
<rect x="960" y="576" width="2" height="6" fill="#439b8f"/>
<rect x="958" y="560" width="6" height="16" fill="#439b8f"/>
<rect x="959" y="561" width="4" height="14" fill="#53a59b"/>
<rect x="968" y="558" width="2" height="2" fill="#db554c"/>
<rect x="966" y="560" width="6" height="18" fill="#db554c"/>
<rect x="967" y="561" width="4" height="16" fill="#e0625a"/>
<rect x="976" y="542" width="2" height="8" fill="#439b8f"/>
<rect x="976" y="578" width="2" height="4" fill="#439b8f"/>
<rect x="974" y="550" width="6" height="28" fill="#439b8f"/>
<rect x="975" y="551" width="4" height="26" fill="#53a59b"/>
<rect x="982" y="544" width="2" height="4" fill="#db554c"/>
<rect x="982" y="566" width="2" height="2" fill="#db554c"/>
<rect x="980" y="548" width="6" height="18" fill="#db554c"/>
<rect x="981" y="549" width="4" height="16" fill="#e0625a"/>
<rect x="990" y="532" width="2" height="4" fill="#439b8f"/>
<rect x="990" y="568" width="2" height="4" fill="#439b8f"/>
<rect x="988" y="536" width="6" height="32" fill="#439b8f"/>
<rect x="989" y="537" width="4" height="30" fill="#53a59b"/>
<rect x="998" y="514" width="2" height="23" fill="#439b8f"/>
<rect x="996" y="537" width="6" height="2" fill="#439b8f"/>
<rect x="1002" y="514" width="6" height="22" fill="#439b8f"/>
<rect x="1003" y="515" width="4" height="20" fill="#53a59b"/>
<rect x="1012" y="474" width="2" height="6" fill="#439b8f"/>
<rect x="1012" y="516" width="2" height="2" fill="#439b8f"/>
<rect x="1010" y="480" width="6" height="36" fill="#439b8f"/>
<rect x="1011" y="481" width="4" height="34" fill="#53a59b"/>
<rect x="1020" y="474" width="2" height="14" fill="#db554c"/>
<rect x="1020" y="494" width="2" height="8" fill="#db554c"/>
<rect x="1018" y="488" width="6" height="6" fill="#db554c"/>
<rect x="1019" y="489" width="4" height="4" fill="#e0625a"/>
<rect x="1026" y="486" width="2" height="4" fill="#db554c"/>
<rect x="1026" y="516" width="2" height="12" fill="#db554c"/>
<rect x="1024" y="490" width="6" height="26" fill="#db554c"/>
<rect x="1025" y="491" width="4" height="24" fill="#e0625a"/>
<rect x="1034" y="502" width="2" height="6" fill="#439b8f"/>
<rect x="1034" y="524" width="2" height="10" fill="#439b8f"/>
<rect x="1032" y="508" width="6" height="16" fill="#439b8f"/>
<rect x="1033" y="509" width="4" height="14" fill="#53a59b"/>
<rect x="1040" y="506" width="2" height="6" fill="#db554c"/>
<rect x="1038" y="512" width="6" height="48" fill="#db554c"/>
<rect x="1039" y="513" width="4" height="46" fill="#e0625a"/>
<rect x="1048" y="542" width="2" height="12" fill="#db554c"/>
<rect x="1048" y="557" width="2" height="7" fill="#db554c"/>
<rect x="1046" y="554" width="6" height="3" fill="#db554c"/>
<rect x="1047" y="555" width="4" height="1" fill="#e0625a"/>
<rect x="1056" y="544" width="2" height="2" fill="#439b8f"/>
<rect x="1056" y="554" width="2" height="16" fill="#439b8f"/>
<rect x="1054" y="546" width="6" height="8" fill="#439b8f"/>
<rect x="1055" y="547" width="4" height="6" fill="#53a59b"/>
<rect x="1062" y="540" width="2" height="10" fill="#db554c"/>
<rect x="1062" y="563" width="2" height="9" fill="#db554c"/>
<rect x="1060" y="550" width="6" height="13" fill="#db554c"/>
<rect x="1061" y="551" width="4" height="11" fill="#e0625a"/>
<rect x="1070" y="538" width="2" height="22" fill="#db554c"/>
<rect x="1068" y="560" width="6" height="10" fill="#db554c"/>
<rect x="1069" y="561" width="4" height="8" fill="#e0625a"/>
<rect x="1078" y="582" width="2" height="24" fill="#db554c"/>
<rect x="1076" y="574" width="6" height="8" fill="#db554c"/>
<rect x="1077" y="575" width="4" height="6" fill="#e0625a"/>
<rect x="1084" y="548" width="2" height="10" fill="#439b8f"/>
<rect x="1082" y="558" width="6" height="19" fill="#439b8f"/>
<rect x="1083" y="559" width="4" height="17" fill="#53a59b"/>
<rect x="1092" y="526" width="2" height="8" fill="#439b8f"/>
<rect x="1090" y="534" width="6" height="21" fill="#439b8f"/>
<rect x="1091" y="535" width="4" height="19" fill="#53a59b"/>
<rect x="1100" y="524" width="2" height="4" fill="#439b8f"/>
<rect x="1098" y="528" width="6" height="12" fill="#439b8f"/>
<rect x="1099" y="529" width="4" height="10" fill="#53a59b"/>
<rect x="1106" y="502" width="2" height="12" fill="#439b8f"/>
<rect x="1106" y="524" width="2" height="2" fill="#439b8f"/>
<rect x="1104" y="514" width="6" height="10" fill="#439b8f"/>
<rect x="1105" y="515" width="4" height="8" fill="#53a59b"/>
<rect x="1114" y="510" width="2" height="10" fill="#db554c"/>
<rect x="1114" y="524" width="2" height="8" fill="#db554c"/>
<rect x="1112" y="520" width="6" height="4" fill="#db554c"/>
<rect x="1113" y="521" width="4" height="2" fill="#e0625a"/>
<rect x="1122" y="520" width="2" height="2" fill="#db554c"/>
<rect x="1120" y="522" width="6" height="33" fill="#db554c"/>
<rect x="1121" y="523" width="4" height="31" fill="#e0625a"/>
<rect x="1128" y="554" width="2" height="6" fill="#db554c"/>
<rect x="1128" y="568" width="2" height="6" fill="#db554c"/>
<rect x="1126" y="560" width="6" height="8" fill="#db554c"/>
<rect x="1127" y="561" width="4" height="6" fill="#e0625a"/>
<rect x="1136" y="554" width="2" height="10" fill="#db554c"/>
<rect x="1136" y="600" width="2" height="3" fill="#db554c"/>
<rect x="1134" y="564" width="6" height="36" fill="#db554c"/>
<rect x="1135" y="565" width="4" height="34" fill="#e0625a"/>
<rect x="1144" y="568" width="2" height="2" fill="#439b8f"/>
<rect x="1142" y="570" width="6" height="40" fill="#439b8f"/>
<rect x="1143" y="571" width="4" height="38" fill="#53a59b"/>
<rect x="1150" y="540" width="2" height="20" fill="#db554c"/>
<rect x="1150" y="582" width="2" height="4" fill="#db554c"/>
<rect x="1148" y="560" width="6" height="22" fill="#db554c"/>
<rect x="1149" y="561" width="4" height="20" fill="#e0625a"/>
<rect x="1158" y="587" width="2" height="28" fill="#db554c"/>
<rect x="1156" y="580" width="6" height="7" fill="#db554c"/>
<rect x="1157" y="581" width="4" height="5" fill="#e0625a"/>
<rect x="1166" y="562" width="2" height="2" fill="#db554c"/>
<rect x="1164" y="564" width="6" height="36" fill="#db554c"/>
<rect x="1165" y="565" width="4" height="34" fill="#e0625a"/>
<rect x="1172" y="592" width="2" height="10" fill="#db554c"/>
<rect x="1172" y="653" width="2" height="1" fill="#db554c"/>
<rect x="1170" y="602" width="6" height="51" fill="#db554c"/>
<rect x="1171" y="603" width="4" height="49" fill="#e0625a"/>
<rect x="1180" y="626" width="2" height="16" fill="#439b8f"/>
<rect x="1180" y="652" width="2" height="20" fill="#439b8f"/>
<rect x="1178" y="642" width="6" height="10" fill="#439b8f"/>
<rect x="1179" y="643" width="4" height="8" fill="#53a59b"/>
<rect x="1188" y="616" width="2" height="4" fill="#439b8f"/>
<rect x="1188" y="632" width="2" height="6" fill="#439b8f"/>
<rect x="1186" y="620" width="6" height="12" fill="#439b8f"/>
<rect x="1187" y="621" width="4" height="10" fill="#53a59b"/>
<rect x="1194" y="610" width="2" height="8" fill="#db554c"/>
<rect x="1194" y="648" width="2" height="8" fill="#db554c"/>
<rect x="1192" y="618" width="6" height="30" fill="#db554c"/>
<rect x="1193" y="619" width="4" height="28" fill="#e0625a"/>
<rect x="1202" y="580" width="2" height="10" fill="#439b8f"/>
<rect x="1202" y="648" width="2" height="2" fill="#439b8f"/>
<rect x="1200" y="590" width="6" height="58" fill="#439b8f"/>
<rect x="1201" y="591" width="4" height="56" fill="#53a59b"/>
<rect x="1210" y="564" width="2" height="16" fill="#439b8f"/>
<rect x="1210" y="582" width="2" height="33" fill="#439b8f"/>
<rect x="1208" y="580" width="6" height="2" fill="#439b8f"/>
<rect x="1216" y="588" width="2" height="4" fill="#db554c"/>
<rect x="1216" y="645" width="2" height="1" fill="#db554c"/>
<rect x="1214" y="592" width="6" height="53" fill="#db554c"/>
<rect x="1215" y="593" width="4" height="51" fill="#e0625a"/>
<rect x="1224" y="612" width="2" height="2" fill="#439b8f"/>
<rect x="1224" y="631" width="2" height="5" fill="#439b8f"/>
<rect x="1222" y="614" width="6" height="17" fill="#439b8f"/>
<rect x="1223" y="615" width="4" height="15" fill="#53a59b"/>
<rect x="1232" y="620" width="2" height="14" fill="#439b8f"/>
<rect x="1232" y="654" width="2" height="4" fill="#439b8f"/>
<rect x="1230" y="634" width="6" height="20" fill="#439b8f"/>
<rect x="1231" y="635" width="4" height="18" fill="#53a59b"/>
<rect x="1238" y="604" width="2" height="14" fill="#db554c"/>
<rect x="1238" y="628" width="2" height="2" fill="#db554c"/>
<rect x="1236" y="618" width="6" height="10" fill="#db554c"/>
<rect x="1237" y="619" width="4" height="8" fill="#e0625a"/>
<rect x="1246" y="636" width="2" height="6" fill="#db554c"/>
<rect x="1244" y="642" width="6" height="16" fill="#db554c"/>
<rect x="1245" y="643" width="4" height="14" fill="#e0625a"/>
<rect x="1254" y="616" width="2" height="2" fill="#439b8f"/>
<rect x="1252" y="618" width="6" height="30" fill="#439b8f"/>
<rect x="1253" y="619" width="4" height="28" fill="#53a59b"/>
<rect x="1260" y="626" width="2" height="4" fill="#db554c"/>
<rect x="1260" y="644" width="2" height="2" fill="#db554c"/>
<rect x="1258" y="630" width="6" height="14" fill="#db554c"/>
<rect x="1259" y="631" width="4" height="12" fill="#e0625a"/>
<rect x="1268" y="626" width="2" height="14" fill="#db554c"/>
<rect x="1266" y="640" width="6" height="16" fill="#db554c"/>
<rect x="1267" y="641" width="4" height="14" fill="#e0625a"/>
<rect x="1272" y="618" width="6" height="30" fill="#439b8f"/>
<rect x="1273" y="619" width="4" height="28" fill="#53a59b"/>
<rect x="1282" y="622" width="2" height="2" fill="#db554c"/>
<rect x="1282" y="636" width="2" height="8" fill="#db554c"/>
<rect x="1280" y="624" width="6" height="12" fill="#db554c"/>
<rect x="1281" y="625" width="4" height="10" fill="#e0625a"/>
<rect x="1290" y="622" width="2" height="2" fill="#439b8f"/>
<rect x="1290" y="638" width="2" height="4" fill="#439b8f"/>
<rect x="1288" y="624" width="6" height="14" fill="#439b8f"/>
<rect x="1289" y="625" width="4" height="12" fill="#53a59b"/>
<rect x="1298" y="592" width="2" height="2" fill="#439b8f"/>
<rect x="1296" y="594" width="6" height="28" fill="#439b8f"/>
<rect x="1297" y="595" width="4" height="26" fill="#53a59b"/>
<rect x="1304" y="560" width="2" height="12" fill="#439b8f"/>
<rect x="1304" y="592" width="2" height="10" fill="#439b8f"/>
<rect x="1302" y="572" width="6" height="20" fill="#439b8f"/>
<rect x="1303" y="573" width="4" height="18" fill="#53a59b"/>
<rect x="1312" y="546" width="2" height="16" fill="#db554c"/>
<rect x="1310" y="562" width="6" height="4" fill="#db554c"/>
<rect x="1311" y="563" width="4" height="2" fill="#e0625a"/>
<rect x="1320" y="554" width="2" height="2" fill="#db554c"/>
<rect x="1320" y="590" width="2" height="4" fill="#db554c"/>
<rect x="1318" y="556" width="6" height="34" fill="#db554c"/>
<rect x="1319" y="557" width="4" height="32" fill="#e0625a"/>
<rect x="1326" y="590" width="2" height="2" fill="#db554c"/>
<rect x="1326" y="610" width="2" height="2" fill="#db554c"/>
<rect x="1324" y="592" width="6" height="18" fill="#db554c"/>
<rect x="1325" y="593" width="4" height="16" fill="#e0625a"/>
<rect x="1334" y="596" width="2" height="4" fill="#db554c"/>
<rect x="1334" y="622" width="2" height="3" fill="#db554c"/>
<rect x="1332" y="600" width="6" height="22" fill="#db554c"/>
<rect x="1333" y="601" width="4" height="20" fill="#e0625a"/>
<rect x="1342" y="600" width="2" height="12" fill="#db554c"/>
<rect x="1340" y="612" width="6" height="13" fill="#db554c"/>
<rect x="1341" y="613" width="4" height="11" fill="#e0625a"/>
<rect x="1348" y="602" width="2" height="24" fill="#439b8f"/>
<rect x="1346" y="626" width="6" height="2" fill="#439b8f"/>
<rect x="1356" y="622" width="2" height="2" fill="#db554c"/>
<rect x="1356" y="633" width="2" height="11" fill="#db554c"/>
<rect x="1354" y="624" width="6" height="9" fill="#db554c"/>
<rect x="1355" y="625" width="4" height="7" fill="#e0625a"/>
<rect x="1364" y="626" width="2" height="1" fill="#db554c"/>
<rect x="1364" y="658" width="2" height="14" fill="#db554c"/>
<rect x="1362" y="627" width="6" height="31" fill="#db554c"/>
<rect x="1363" y="628" width="4" height="29" fill="#e0625a"/>
<rect x="1370" y="648" width="2" height="6" fill="#439b8f"/>
<rect x="1370" y="657" width="2" height="8" fill="#439b8f"/>
<rect x="1368" y="654" width="6" height="3" fill="#439b8f"/>
<rect x="1369" y="655" width="4" height="1" fill="#53a59b"/>
<rect x="1378" y="654" width="2" height="6" fill="#439b8f"/>
<rect x="1376" y="644" width="6" height="10" fill="#439b8f"/>
<rect x="1377" y="645" width="4" height="8" fill="#53a59b"/>
<rect x="1384" y="628" width="2" height="8" fill="#439b8f"/>
<rect x="1382" y="636" width="6" height="8" fill="#439b8f"/>
<rect x="1383" y="637" width="4" height="6" fill="#53a59b"/>
<rect x="1392" y="610" width="2" height="22" fill="#db554c"/>
<rect x="1392" y="701" width="2" height="13" fill="#db554c"/>
<rect x="1390" y="632" width="6" height="69" fill="#db554c"/>
<rect x="1391" y="633" width="4" height="67" fill="#e0625a"/>
<rect x="1400" y="684" width="2" height="20" fill="#439b8f"/>
<rect x="1400" y="714" width="2" height="38" fill="#439b8f"/>
<rect x="1398" y="704" width="6" height="10" fill="#439b8f"/>
<rect x="1399" y="705" width="4" height="8" fill="#53a59b"/>
<rect x="1406" y="680" width="2" height="2" fill="#439b8f"/>
<rect x="1406" y="702" width="2" height="10" fill="#439b8f"/>
<rect x="1404" y="682" width="6" height="20" fill="#439b8f"/>
<rect x="1405" y="683" width="4" height="18" fill="#53a59b"/>
<rect x="1414" y="680" width="2" height="12" fill="#439b8f"/>
<rect x="1414" y="698" width="2" height="6" fill="#439b8f"/>
<rect x="1412" y="692" width="6" height="6" fill="#439b8f"/>
<rect x="1413" y="693" width="4" height="4" fill="#53a59b"/>
<rect x="1422" y="734" width="2" height="4" fill="#db554c"/>
<rect x="1420" y="690" width="6" height="44" fill="#db554c"/>
<rect x="1421" y="691" width="4" height="42" fill="#e0625a"/>
<rect x="1428" y="742" width="2" height="8" fill="#439b8f"/>
<rect x="1426" y="708" width="6" height="34" fill="#439b8f"/>
<rect x="1427" y="709" width="4" height="32" fill="#53a59b"/>
<rect x="1436" y="684" width="2" height="6" fill="#db554c"/>
<rect x="1436" y="702" width="2" height="10" fill="#db554c"/>
<rect x="1434" y="690" width="6" height="12" fill="#db554c"/>
<rect x="1435" y="691" width="4" height="10" fill="#e0625a"/>
<rect x="1444" y="694" width="2" height="8" fill="#db554c"/>
<rect x="1444" y="706" width="2" height="8" fill="#db554c"/>
<rect x="1442" y="702" width="6" height="4" fill="#db554c"/>
<rect x="1443" y="703" width="4" height="2" fill="#e0625a"/>
<rect x="1450" y="696" width="2" height="12" fill="#db554c"/>
<rect x="1450" y="712" width="2" height="7" fill="#db554c"/>
<rect x="1448" y="708" width="6" height="4" fill="#db554c"/>
<rect x="1449" y="709" width="4" height="2" fill="#e0625a"/>
<rect x="1458" y="676" width="2" height="2" fill="#439b8f"/>
<rect x="1458" y="690" width="2" height="8" fill="#439b8f"/>
<rect x="1456" y="678" width="6" height="12" fill="#439b8f"/>
<rect x="1457" y="679" width="4" height="10" fill="#53a59b"/>
<rect x="1466" y="594" width="2" height="10" fill="#439b8f"/>
<rect x="1466" y="677" width="2" height="3" fill="#439b8f"/>
<rect x="1464" y="604" width="6" height="73" fill="#439b8f"/>
<rect x="1465" y="605" width="4" height="71" fill="#53a59b"/>
<rect x="1472" y="592" width="2" height="4" fill="#439b8f"/>
<rect x="1472" y="628" width="2" height="20" fill="#439b8f"/>
<rect x="1470" y="596" width="6" height="32" fill="#439b8f"/>
<rect x="1471" y="597" width="4" height="30" fill="#53a59b"/>
<rect x="1480" y="556" width="2" height="1" fill="#db554c"/>
<rect x="1480" y="672" width="2" height="10" fill="#db554c"/>
<rect x="1478" y="557" width="6" height="115" fill="#db554c"/>
<rect x="1479" y="558" width="4" height="113" fill="#e0625a"/>
<rect x="1488" y="650" width="2" height="10" fill="#439b8f"/>
<rect x="1488" y="672" width="2" height="4" fill="#439b8f"/>
<rect x="1486" y="660" width="6" height="12" fill="#439b8f"/>
<rect x="1487" y="661" width="4" height="10" fill="#53a59b"/>
<rect x="1494" y="640" width="2" height="4" fill="#439b8f"/>
<rect x="1494" y="654" width="2" height="6" fill="#439b8f"/>
<rect x="1492" y="644" width="6" height="10" fill="#439b8f"/>
<rect x="1493" y="645" width="4" height="8" fill="#53a59b"/>
<rect x="1502" y="666" width="2" height="14" fill="#db554c"/>
<rect x="1500" y="642" width="6" height="24" fill="#db554c"/>
<rect x="1501" y="643" width="4" height="22" fill="#e0625a"/>
<rect x="1510" y="662" width="2" height="6" fill="#db554c"/>
<rect x="1510" y="674" width="2" height="2" fill="#db554c"/>
<rect x="1508" y="668" width="6" height="6" fill="#db554c"/>
<rect x="1509" y="669" width="4" height="4" fill="#e0625a"/>
<rect x="1516" y="626" width="2" height="28" fill="#439b8f"/>
<rect x="1516" y="660" width="2" height="2" fill="#439b8f"/>
<rect x="1514" y="654" width="6" height="6" fill="#439b8f"/>
<rect x="1515" y="655" width="4" height="4" fill="#53a59b"/>
<rect x="1524" y="656" width="2" height="12" fill="#db554c"/>
<rect x="1524" y="686" width="2" height="8" fill="#db554c"/>
<rect x="1522" y="668" width="6" height="18" fill="#db554c"/>
<rect x="1523" y="669" width="4" height="16" fill="#e0625a"/>
<rect x="1532" y="678" width="2" height="2" fill="#db554c"/>
<rect x="1530" y="680" width="6" height="22" fill="#db554c"/>
<rect x="1531" y="681" width="4" height="20" fill="#e0625a"/>
<rect x="1538" y="684" width="2" height="2" fill="#439b8f"/>
<rect x="1536" y="686" width="6" height="18" fill="#439b8f"/>
<rect x="1537" y="687" width="4" height="16" fill="#53a59b"/>
<rect x="1546" y="681" width="2" height="1" fill="#439b8f"/>
<rect x="1544" y="682" width="6" height="4" fill="#439b8f"/>
<rect x="1545" y="683" width="4" height="2" fill="#53a59b"/>
<path d="M22 681h2v2h-2zM26 681h2v2h-2zM30 681h2v2h-2zM34 681h2v2h-2zM38 681h2v2h-2zM42 681h2v2h-2zM46 681h2v2h-2zM50 681h2v2h-2zM54 681h2v2h-2zM58 681h2v2h-2zM62 681h2v2h-2zM66 681h2v2h-2zM70 681h2v2h-2zM74 681h2v2h-2zM78 681h2v2h-2zM82 681h2v2h-2zM86 681h2v2h-2zM90 681h2v2h-2zM94 681h2v2h-2zM98 681h2v2h-2zM102 681h2v2h-2zM106 681h2v2h-2zM110 681h2v2h-2zM114 681h2v2h-2zM118 681h2v2h-2zM122 681h2v2h-2zM126 681h2v2h-2zM130 681h2v2h-2zM134 681h2v2h-2zM138 681h2v2h-2zM142 681h2v2h-2zM146 681h2v2h-2zM150 681h2v2h-2zM154 681h2v2h-2zM158 681h2v2h-2zM162 681h2v2h-2zM166 681h2v2h-2zM170 681h2v2h-2zM174 681h2v2h-2zM178 681h2v2h-2zM182 681h2v2h-2zM186 681h2v2h-2zM190 681h2v2h-2zM194 681h2v2h-2zM198 681h2v2h-2zM202 681h2v2h-2zM206 681h2v2h-2zM210 681h2v2h-2zM214 681h2v2h-2zM218 681h2v2h-2zM222 681h2v2h-2zM226 681h2v2h-2zM230 681h2v2h-2zM234 681h2v2h-2zM238 681h2v2h-2zM242 681h2v2h-2zM246 681h2v2h-2zM250 681h2v2h-2zM254 681h2v2h-2zM258 681h2v2h-2zM262 681h2v2h-2zM266 681h2v2h-2zM270 681h2v2h-2zM274 681h2v2h-2zM278 681h2v2h-2zM282 681h2v2h-2zM286 681h2v2h-2zM290 681h2v2h-2zM294 681h2v2h-2zM298 681h2v2h-2zM302 681h2v2h-2zM306 681h2v2h-2zM310 681h2v2h-2zM314 681h2v2h-2zM318 681h2v2h-2zM322 681h2v2h-2zM326 681h2v2h-2zM330 681h2v2h-2zM334 681h2v2h-2zM338 681h2v2h-2zM342 681h2v2h-2zM346 681h2v2h-2zM350 681h2v2h-2zM354 681h2v2h-2zM358 681h2v2h-2zM362 681h2v2h-2zM366 681h2v2h-2zM370 681h2v2h-2zM374 681h2v2h-2zM378 681h2v2h-2zM382 681h2v2h-2zM386 681h2v2h-2zM390 681h2v2h-2zM394 681h2v2h-2zM398 681h2v2h-2zM402 681h2v2h-2zM406 681h2v2h-2zM410 681h2v2h-2zM414 681h2v2h-2zM418 681h2v2h-2zM422 681h2v2h-2zM426 681h2v2h-2zM430 681h2v2h-2zM434 681h2v2h-2zM438 681h2v2h-2zM442 681h2v2h-2zM446 681h2v2h-2zM450 681h2v2h-2zM454 681h2v2h-2zM458 681h2v2h-2zM462 681h2v2h-2zM466 681h2v2h-2zM470 681h2v2h-2zM474 681h2v2h-2zM478 681h2v2h-2zM482 681h2v2h-2zM486 681h2v2h-2zM490 681h2v2h-2zM494 681h2v2h-2zM498 681h2v2h-2zM502 681h2v2h-2zM506 681h2v2h-2zM510 681h2v2h-2zM514 681h2v2h-2zM518 681h2v2h-2zM522 681h2v2h-2zM526 681h2v2h-2zM530 681h2v2h-2zM534 681h2v2h-2zM538 681h2v2h-2zM542 681h2v2h-2zM546 681h2v2h-2zM550 681h2v2h-2zM554 681h2v2h-2zM558 681h2v2h-2zM562 681h2v2h-2zM566 681h2v2h-2zM570 681h2v2h-2zM574 681h2v2h-2zM578 681h2v2h-2zM582 681h2v2h-2zM586 681h2v2h-2zM590 681h2v2h-2zM594 681h2v2h-2zM598 681h2v2h-2zM602 681h2v2h-2zM606 681h2v2h-2zM610 681h2v2h-2zM614 681h2v2h-2zM618 681h2v2h-2zM622 681h2v2h-2zM626 681h2v2h-2zM630 681h2v2h-2zM634 681h2v2h-2zM638 681h2v2h-2zM642 681h2v2h-2zM646 681h2v2h-2zM650 681h2v2h-2zM654 681h2v2h-2zM658 681h2v2h-2zM662 681h2v2h-2zM666 681h2v2h-2zM670 681h2v2h-2zM674 681h2v2h-2zM678 681h2v2h-2zM682 681h2v2h-2zM686 681h2v2h-2zM690 681h2v2h-2zM694 681h2v2h-2zM698 681h2v2h-2zM702 681h2v2h-2zM706 681h2v2h-2zM710 681h2v2h-2zM714 681h2v2h-2zM718 681h2v2h-2zM722 681h2v2h-2zM726 681h2v2h-2zM730 681h2v2h-2zM734 681h2v2h-2zM738 681h2v2h-2zM742 681h2v2h-2zM746 681h2v2h-2zM750 681h2v2h-2zM754 681h2v2h-2zM758 681h2v2h-2zM762 681h2v2h-2zM766 681h2v2h-2zM770 681h2v2h-2zM774 681h2v2h-2zM778 681h2v2h-2zM782 681h2v2h-2zM786 681h2v2h-2zM790 681h2v2h-2zM794 681h2v2h-2zM798 681h2v2h-2zM802 681h2v2h-2zM806 681h2v2h-2zM810 681h2v2h-2zM814 681h2v2h-2zM818 681h2v2h-2zM822 681h2v2h-2zM826 681h2v2h-2zM830 681h2v2h-2zM834 681h2v2h-2zM838 681h2v2h-2zM842 681h2v2h-2zM846 681h2v2h-2zM850 681h2v2h-2zM854 681h2v2h-2zM858 681h2v2h-2zM862 681h2v2h-2zM866 681h2v2h-2zM870 681h2v2h-2zM874 681h2v2h-2zM878 681h2v2h-2zM882 681h2v2h-2zM886 681h2v2h-2zM890 681h2v2h-2zM894 681h2v2h-2zM898 681h2v2h-2zM902 681h2v2h-2zM906 681h2v2h-2zM910 681h2v2h-2zM914 681h2v2h-2zM918 681h2v2h-2zM922 681h2v2h-2zM926 681h2v2h-2zM930 681h2v2h-2zM934 681h2v2h-2zM938 681h2v2h-2zM942 681h2v2h-2zM946 681h2v2h-2zM950 681h2v2h-2zM954 681h2v2h-2zM958 681h2v2h-2zM962 681h2v2h-2zM966 681h2v2h-2zM970 681h2v2h-2zM974 681h2v2h-2zM978 681h2v2h-2zM982 681h2v2h-2zM986 681h2v2h-2zM990 681h2v2h-2zM994 681h2v2h-2zM998 681h2v2h-2zM1002 681h2v2h-2zM1006 681h2v2h-2zM1010 681h2v2h-2zM1014 681h2v2h-2zM1018 681h2v2h-2zM1022 681h2v2h-2zM1026 681h2v2h-2zM1030 681h2v2h-2zM1034 681h2v2h-2zM1038 681h2v2h-2zM1042 681h2v2h-2zM1046 681h2v2h-2zM1050 681h2v2h-2zM1054 681h2v2h-2zM1058 681h2v2h-2zM1062 681h2v2h-2zM1066 681h2v2h-2zM1070 681h2v2h-2zM1074 681h2v2h-2zM1078 681h2v2h-2zM1082 681h2v2h-2zM1086 681h2v2h-2zM1090 681h2v2h-2zM1094 681h2v2h-2zM1098 681h2v2h-2zM1102 681h2v2h-2zM1106 681h2v2h-2zM1110 681h2v2h-2zM1114 681h2v2h-2zM1118 681h2v2h-2zM1122 681h2v2h-2zM1126 681h2v2h-2zM1130 681h2v2h-2zM1134 681h2v2h-2zM1138 681h2v2h-2zM1142 681h2v2h-2zM1146 681h2v2h-2zM1150 681h2v2h-2zM1154 681h2v2h-2zM1158 681h2v2h-2zM1162 681h2v2h-2zM1166 681h2v2h-2zM1170 681h2v2h-2zM1174 681h2v2h-2zM1178 681h2v2h-2zM1182 681h2v2h-2zM1186 681h2v2h-2zM1190 681h2v2h-2zM1194 681h2v2h-2zM1198 681h2v2h-2zM1202 681h2v2h-2zM1206 681h2v2h-2zM1210 681h2v2h-2zM1214 681h2v2h-2zM1218 681h2v2h-2zM1222 681h2v2h-2zM1226 681h2v2h-2zM1230 681h2v2h-2zM1234 681h2v2h-2zM1238 681h2v2h-2zM1242 681h2v2h-2zM1246 681h2v2h-2zM1250 681h2v2h-2zM1254 681h2v2h-2zM1258 681h2v2h-2zM1262 681h2v2h-2zM1266 681h2v2h-2zM1270 681h2v2h-2zM1274 681h2v2h-2zM1278 681h2v2h-2zM1282 681h2v2h-2zM1286 681h2v2h-2zM1290 681h2v2h-2zM1294 681h2v2h-2zM1298 681h2v2h-2zM1302 681h2v2h-2zM1306 681h2v2h-2zM1310 681h2v2h-2zM1314 681h2v2h-2zM1318 681h2v2h-2zM1322 681h2v2h-2zM1326 681h2v2h-2zM1330 681h2v2h-2zM1334 681h2v2h-2zM1338 681h2v2h-2zM1342 681h2v2h-2zM1346 681h2v2h-2zM1350 681h2v2h-2zM1354 681h2v2h-2zM1358 681h2v2h-2zM1362 681h2v2h-2zM1366 681h2v2h-2zM1370 681h2v2h-2zM1374 681h2v2h-2zM1378 681h2v2h-2zM1382 681h2v2h-2zM1386 681h2v2h-2zM1390 681h2v2h-2zM1394 681h2v2h-2zM1398 681h2v2h-2zM1402 681h2v2h-2zM1406 681h2v2h-2zM1410 681h2v2h-2zM1414 681h2v2h-2zM1418 681h2v2h-2zM1422 681h2v2h-2zM1426 681h2v2h-2zM1430 681h2v2h-2zM1434 681h2v2h-2zM1438 681h2v2h-2zM1442 681h2v2h-2zM1446 681h2v2h-2zM1450 681h2v2h-2zM1454 681h2v2h-2zM1458 681h2v2h-2zM1462 681h2v2h-2zM1466 681h2v2h-2zM1470 681h2v2h-2zM1474 681h2v2h-2zM1478 681h2v2h-2zM1482 681h2v2h-2zM1486 681h2v2h-2zM1490 681h2v2h-2zM1494 681h2v2h-2zM1498 681h2v2h-2zM1502 681h2v2h-2zM1506 681h2v2h-2zM1510 681h2v2h-2zM1514 681h2v2h-2zM1518 681h2v2h-2zM1522 681h2v2h-2zM1526 681h2v2h-2zM1530 681h2v2h-2zM1534 681h2v2h-2zM1538 681h2v2h-2zM1542 681h2v2h-2zM1546 681h2v2h-2zM1550 681h2v2h-2zM1554 681h2v2h-2zM1558 681h2v2h-2zM1562 681h2v2h-2zM1566 681h2v2h-2zM1570 681h2v2h-2zM1574 681h2v2h-2zM1578 681h2v2h-2zM1582 681h2v2h-2zM1586 681h2v2h-2z" fill="#4a9d93"/>
</g></svg>
<rect x="1590" y="12" width="2" height="794" fill="#e3e3e3"/>
<rect x="1589" y="808" width="2" height="50" fill="#e3e3e3"/>
<rect x="1592" y="100" width="8" height="2" fill="#e3e3e3"/><rect x="1592" y="188" width="8" height="2" fill="#e3e3e3"/><rect x="1592" y="276" width="8" height="2" fill="#e3e3e3"/><rect x="1592" y="364" width="8" height="2" fill="#e3e3e3"/><rect x="1592" y="454" width="8" height="2" fill="#e3e3e3"/><rect x="1592" y="542" width="8" height="2" fill="#e3e3e3"/><rect x="1592" y="630" width="8" height="2" fill="#e3e3e3"/><rect x="1592" y="718" width="8" height="2" fill="#e3e3e3"/>
<rect x="22" y="806" width="1566" height="2" fill="#e3e3e3"/>
<rect x="1591" y="806" width="9" height="2" fill="#e3e3e3"/>
</svg>
<div class="t num" style="left:1604px;top:84.5px;">130</div>
<div class="t num" style="left:1604px;top:172.5px;">120</div>
<div class="t num" style="left:1604px;top:260.5px;">110</div>
<div class="t num" style="left:1604px;top:348.5px;">100</div>
<div class="t num" style="left:1604px;top:436.5px;">90</div>
<div class="t num" style="left:1604px;top:524.5px;">80</div>
<div class="t num" style="left:1604px;top:612.5px;">70</div>
<div class="t num" style="left:1604px;top:700.5px;">60</div>
<div class="t num" style="left:55px;width:200px;text-align:center;top:820px;color:#1e2124">2022</div>
<div class="t mon" style="left:243px;width:200px;text-align:center;top:820px;color:#1e2124">Jul</div>
<div class="t num" style="left:435px;width:200px;text-align:center;top:820px;color:#1e2124">2023</div>
<div class="t mon" style="left:625px;width:200px;text-align:center;top:820px;color:#1e2124">Jul</div>
<div class="t num" style="left:817px;width:200px;text-align:center;top:820px;color:#1e2124">2024</div>
<div class="t mon" style="left:1007px;width:200px;text-align:center;top:820px;color:#1e2124">Jul</div>
<div class="t num" style="left:1201px;width:200px;text-align:center;top:820px;color:#1e2124">2025</div>
<div class="t mon" style="left:1389px;width:200px;text-align:center;top:820px;color:#1e2124">Jul</div>
<div style="position:absolute;left:22px;top:42px;width:1078px;height:56px;background:rgba(255,255,255,0.8)"></div>
<div class="t" style="left:24px;top:59px;font-size:30px;color:#1e2124;">Crude Oil WTI</div>
<div class="t" style="left:219px;top:59px;font-size:30px;color:#1e2124;">(USD/Bbl)</div>
<div class="t" style="left:362px;top:59px;font-size:30px;color:#1e2124;transform:scaleY(1.06);transform-origin:0 25px;">O</div>
<div class="t" style="left:391.5px;top:59px;font-size:30px;color:#58c44a;transform:scaleY(1.06);transform-origin:0 25px;">63.747</div>
<div class="t" style="left:492.5px;top:59px;font-size:30px;color:#1e2124;transform:scaleY(1.06);transform-origin:0 25px;">H</div>
<div class="t" style="left:521.5px;top:59px;font-size:30px;color:#58c44a;transform:scaleY(1.06);transform-origin:0 25px;">64.139</div>
<div class="t" style="left:623.5px;top:59px;font-size:30px;color:#1e2124;transform:scaleY(1.06);transform-origin:0 25px;">L</div>
<div class="t" style="left:646.5px;top:59px;font-size:30px;color:#58c44a;transform:scaleY(1.06);transform-origin:0 25px;">63.557</div>
<div class="t" style="left:746.6px;top:59px;font-size:30px;color:#1e2124;transform:scaleY(1.06);transform-origin:0 25px;">C</div>
<div class="t" style="left:777.6px;top:59px;font-size:30px;color:#58c44a;transform:scaleY(1.06);transform-origin:0 25px;">64.097</div>
<div class="t" style="left:886px;top:59px;font-size:30px;color:#58c44a;transform:scaleY(1.06);transform-origin:0 25px;">0.437</div>
<div class="t" style="left:968px;top:59px;font-size:30px;color:#58c44a;">(+0.69%)</div>
<div style="position:absolute;left:1591px;top:660px;width:122px;height:52px;background:#53a39a"></div><div class="t num" style="left:1591px;top:673px;width:122px;text-align:center;font-size:30.5px;color:#fff;transform:scaleY(1.1)">64.097</div><svg width="40" height="40" style="position:absolute;left:1632px;top:814px" viewBox="-20 -20 40 40">
<path id="g" fill="none" stroke="#777" stroke-width="3.0" stroke-linejoin="miter" d="M-3.60 -10.80 L-2.60 -15.20 L2.60 -15.20 L3.60 -10.80 L7.55 -8.52 L11.86 -9.85 L14.46 -5.35 L11.15 -2.28 L11.15 2.28 L14.46 5.35 L11.86 9.85 L7.55 8.52 L3.60 10.80 L2.60 15.20 L-2.60 15.20 L-3.60 10.80 L-7.55 8.52 L-11.86 9.85 L-14.46 5.35 L-11.15 2.28 L-11.15 -2.28 L-14.46 -5.35 L-11.86 -9.85 L-7.55 -8.52 Z"/>
<circle cx="0" cy="0" r="5.0" fill="none" stroke="#777" stroke-width="3.1"/></svg>
</body></html>
